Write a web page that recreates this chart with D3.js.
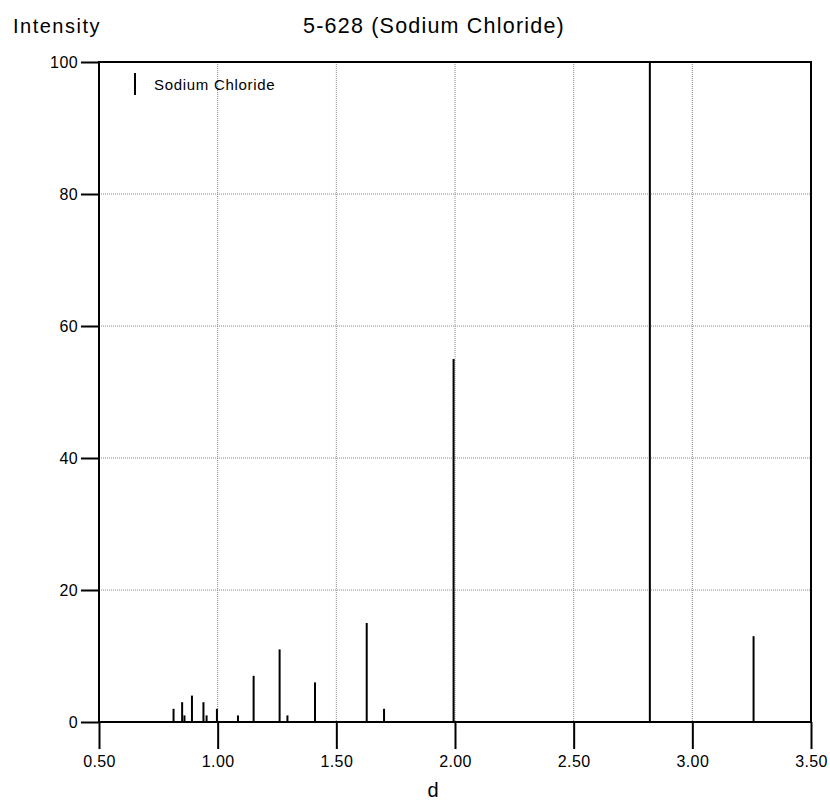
<!DOCTYPE html>
<html>
<head>
<meta charset="utf-8">
<script src="https://cdn.jsdelivr.net/npm/d3@7"></script>
<style>
  body { margin: 0; background: #fff; }
  text { font-family: "Liberation Sans", Arial, sans-serif; fill: #000; }
</style>
</head>
<body>
<script>
// NaCl reference pattern 5-628
const dSpacing = [3.258, 2.821, 1.994, 1.701, 1.628, 1.410, 1.294, 1.261, 1.1515, 1.0855, 0.9969, 0.9533, 0.9401, 0.8917, 0.8601, 0.8503, 0.8141];
const intensity = [13, 100, 55, 2, 15, 6, 1, 11, 7, 1, 2, 1, 3, 4, 1, 3, 2];
const xTicks = [0.5, 1.0, 1.5, 2.0, 2.5, 3.0, 3.5];
const yTicks = [0, 20, 40, 60, 80, 100];

const W = 830, H = 800;
const plotL = 99, plotR = 811, plotT = 62, plotB = 722;

const svg = d3.select("body").append("svg")
  .attr("width", W)
  .attr("height", H);

const x = d3.scaleLinear().domain([0.5, 3.5]).range([plotL, plotR]);
const y = d3.scaleLinear().domain([0, 100]).range([plotB, plotT]);

// grid
svg.append("g")
  .selectAll("line")
  .data(xTicks.slice(1, -1))
  .join("line")
  .attr("x1", d => x(d)).attr("x2", d => x(d))
  .attr("y1", plotT).attr("y2", plotB)
  .attr("stroke", "#888")
  .attr("stroke-dasharray", "1,1");

svg.append("g")
  .selectAll("line")
  .data(yTicks.slice(1, -1))
  .join("line")
  .attr("x1", plotL).attr("x2", plotR)
  .attr("y1", d => y(d)).attr("y2", d => y(d))
  .attr("stroke", "#888")
  .attr("stroke-dasharray", "1,1");

// axes
const xAxis = svg.append("g")
  .attr("transform", `translate(0,${plotB})`)
  .call(d3.axisBottom(x).tickValues(xTicks).tickFormat(d3.format(".2f"))
    .tickSize(27).tickSizeOuter(0).tickPadding(7));

const yAxis = svg.append("g")
  .attr("transform", `translate(${plotL},0)`)
  .call(d3.axisLeft(y).tickValues(yTicks).tickSize(18).tickSizeOuter(0).tickPadding(3));

[xAxis, yAxis].forEach(g => {
  g.select(".domain").remove();
  g.selectAll(".tick line").attr("stroke", "#000").attr("stroke-width", 2);
  g.selectAll(".tick text")
    .style("font-size", "16px")
    .style("letter-spacing", "0.4px");
});

// frame
svg.append("rect")
  .attr("x", plotL).attr("y", plotT)
  .attr("width", plotR - plotL).attr("height", plotB - plotT)
  .attr("fill", "none")
  .attr("stroke", "#000")
  .attr("stroke-width", 2);

// peaks
svg.append("g")
  .selectAll("line")
  .data(dSpacing)
  .join("line")
  .attr("x1", d => x(d)).attr("x2", d => x(d))
  .attr("y1", plotB)
  .attr("y2", (d, i) => y(intensity[i]))
  .attr("stroke", "#000")
  .attr("stroke-width", 2);

// legend
svg.append("line")
  .attr("x1", 135).attr("x2", 135)
  .attr("y1", 73).attr("y2", 95)
  .attr("stroke", "#000").attr("stroke-width", 2);
svg.append("text")
  .attr("x", 154).attr("y", 90)
  .style("font-size", "15px")
  .style("letter-spacing", "0.7px")
  .text("Sodium Chloride");

// titles
svg.append("text")
  .attr("x", 13).attr("y", 33)
  .style("font-size", "20px")
  .style("letter-spacing", "1.5px")
  .text("Intensity");

svg.append("text")
  .attr("x", 434).attr("y", 33)
  .attr("text-anchor", "middle")
  .style("font-size", "21.5px")
  .style("letter-spacing", "1.2px")
  .text("5-628 (Sodium Chloride)");

svg.append("text")
  .attr("x", 433).attr("y", 797)
  .attr("text-anchor", "middle")
  .style("font-size", "20px")
  .text("d");
</script>
</body>
</html>
